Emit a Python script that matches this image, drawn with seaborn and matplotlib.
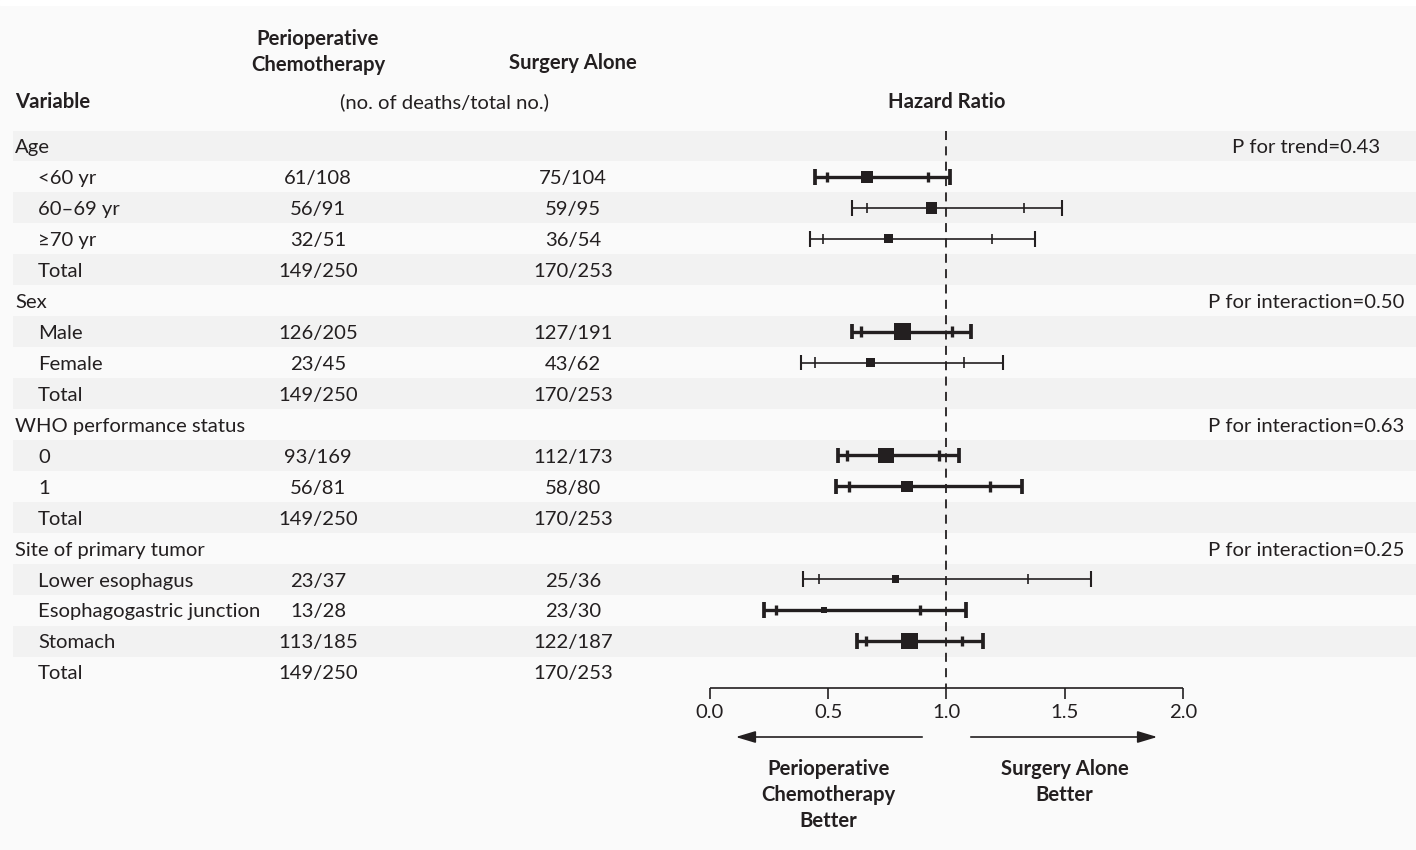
import numpy as np
import seaborn as sns
import matplotlib.pyplot as plt
from matplotlib.patches import Rectangle

# * table rows
labels = ['Age', '<60 yr', '60–69 yr', '≥70 yr', 'Total',
          'Sex', 'Male', 'Female', 'Total',
          'WHO performance status', '0', '1', 'Total',
          'Site of primary tumor', 'Lower esophagus', 'Esophagogastric junction', 'Stomach', 'Total']
level = [0, 1, 1, 1, 1, 0, 1, 1, 1, 0, 1, 1, 1, 0, 1, 1, 1, 1]
chemo = ['', '61/108', '56/91', '32/51', '149/250',
         '', '126/205', '23/45', '149/250',
         '', '93/169', '56/81', '149/250',
         '', '23/37', '13/28', '113/185', '149/250']
surgery = ['', '75/104', '59/95', '36/54', '170/253',
           '', '127/191', '43/62', '170/253',
           '', '112/173', '58/80', '170/253',
           '', '25/36', '23/30', '122/187', '170/253']
p_values = {'Age': 'P for trend=0.43', 'Sex': 'P for interaction=0.50',
            'WHO performance status': 'P for interaction=0.63',
            'Site of primary tumor': 'P for interaction=0.25'}

# * hazard ratios for the subgroups
hr_rows = [1, 2, 3, 6, 7, 10, 11, 14, 15, 16]
hr = [0.664, 0.937, 0.754, 0.813, 0.679, 0.744, 0.833, 0.784, 0.483, 0.843]
ci_in_lo = [0.493, 0.665, 0.479, 0.638, 0.444, 0.578, 0.589, 0.462, 0.279, 0.658]
ci_in_hi = [0.920, 1.328, 1.191, 1.025, 1.074, 0.968, 1.184, 1.346, 0.889, 1.066]
ci_out_lo = [0.444, 0.599, 0.423, 0.599, 0.385, 0.540, 0.533, 0.395, 0.228, 0.620]
ci_out_hi = [1.015, 1.487, 1.374, 1.104, 1.240, 1.054, 1.319, 1.610, 1.084, 1.153]
thick = [True, False, False, True, False, True, True, False, True, True]
hr_ticks = [0.0, 0.5, 1.0, 1.5, 2.0]

deaths = [int(chemo[r].split('/')[0]) + int(surgery[r].split('/')[0]) for r in hr_rows]

sns.set_theme(style='white')
plt.rcParams['font.family'] = ['Lato', 'DejaVu Sans']
INK = '#231f20'
FS = 14.6
DY = 0.06  # small downward nudge for text

W, H = 1416, 850
fig = plt.figure(figsize=(W / 100, H / 100), dpi=100, facecolor='#fafafa')
fig.patches.append(Rectangle((0, 1 - 5 / H), 1, 5 / H, transform=fig.transFigure,
                             color='white', zorder=0))
ax = fig.add_axes([0, 0, 1, 1])
ax.set_facecolor('none')
ax.axis('off')

# pixel layout: HR 0 -> x=710, 2 -> x=1183 ; row 0 -> y=146, 30.94 px per row
x_scale = (1183 - 710) / 2.0
row_h = (672 - 146) / 17.0
ax.set_xlim(-710 / x_scale, (W - 710) / x_scale)
ax.set_ylim((H - 146) / row_h, -146 / row_h)
tx = ax.get_yaxis_transform()


def px(p):
    return p / W


def py(p):
    return (p - 146) / row_h


# striped rows
for i in range(len(labels)):
    if i % 2 == 0:
        ax.axhspan(i - 0.5, i + 0.5, xmin=px(13), xmax=1, color='#f2f2f2', lw=0, zorder=0)

# header
ax.text(px(318), py(52), 'Perioperative\nChemotherapy', transform=tx, ha='center', va='center',
        fontsize=FS, fontweight='bold', color=INK, linespacing=1.38)
ax.text(px(573), py(63), 'Surgery Alone', transform=tx, ha='center', va='center',
        fontsize=FS, fontweight='bold', color=INK)
ax.text(px(15), py(102), 'Variable', transform=tx, ha='left', va='center',
        fontsize=FS, fontweight='bold', color=INK)
ax.text(px(445), py(102), '(no. of deaths/total no.)', transform=tx, ha='center', va='center',
        fontsize=FS, color=INK)
ax.text(946.5 / W, py(102), 'Hazard Ratio', transform=tx, ha='center', va='center',
        fontsize=FS, fontweight='bold', color=INK)

# table body
for i, lab in enumerate(labels):
    ax.text(px(15 if level[i] == 0 else 38), i + DY, lab, transform=tx, ha='left', va='center',
            fontsize=FS, color=INK)
    ax.text(px(318), i + DY, chemo[i], transform=tx, ha='center', va='center', fontsize=FS, color=INK)
    ax.text(px(573), i + DY, surgery[i], transform=tx, ha='center', va='center', fontsize=FS, color=INK)
    if lab in p_values:
        ax.text(px(1306), i + DY, p_values[lab], transform=tx, ha='center', va='center',
                fontsize=FS, color=INK)

# reference line
ax.vlines(1.0, -0.5, py(688), colors=INK, lw=1.3, linestyles=(0, (5, 3.5)), zorder=1)

# confidence intervals
for k, r in enumerate(hr_rows):
    lw = 2.4 if thick[k] else 1.2
    ax.hlines(r, ci_out_lo[k], ci_out_hi[k], colors=INK, lw=lw, zorder=2)
    ax.vlines([ci_out_lo[k], ci_out_hi[k]], r - 0.25, r + 0.25, colors=INK, lw=lw + 0.3, zorder=2)
    ax.vlines([ci_in_lo[k], ci_in_hi[k]], r - 0.17, r + 0.17, colors=INK, lw=lw, zorder=2)

sns.scatterplot(x=hr, y=hr_rows, size=deaths, sizes=(0, 150), size_norm=(0, max(deaths)),
                marker='s', color=INK, linewidth=0, legend=False, ax=ax, zorder=3)

# hazard ratio axis
y_axis = py(688)
ax.hlines(y_axis, hr_ticks[0], hr_ticks[-1], colors=INK, lw=1.2)
ax.vlines(hr_ticks, y_axis, py(699), colors=INK, lw=1.2)
for t in hr_ticks:
    ax.text(t, py(713), f'{t:.1f}', ha='center', va='center', fontsize=FS, color=INK)

ax.annotate('', xy=(0.097, py(737)), xytext=(0.909, py(737)),
            arrowprops=dict(arrowstyle='-|>,head_length=1.0,head_width=0.3', color=INK, lw=1.2))
ax.annotate('', xy=(1.903, py(737)), xytext=(1.091, py(737)),
            arrowprops=dict(arrowstyle='-|>,head_length=1.0,head_width=0.3', color=INK, lw=1.2))
ax.text(0.5, py(759), 'Perioperative\nChemotherapy\nBetter', ha='center', va='top',
        fontsize=FS, fontweight='bold', color=INK, linespacing=1.38)
ax.text(1.5, py(759), 'Surgery Alone\nBetter', ha='center', va='top',
        fontsize=FS, fontweight='bold', color=INK, linespacing=1.38)

fig.savefig('out.png', dpi=100, facecolor=fig.get_facecolor())
